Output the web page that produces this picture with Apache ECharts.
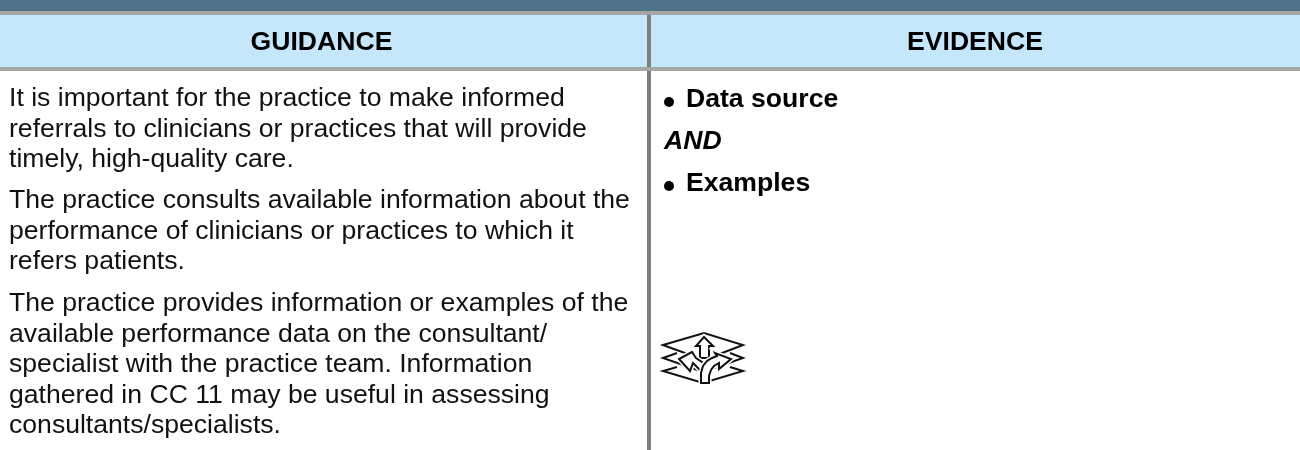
<!DOCTYPE html>
<html><head><meta charset="utf-8">
<style>html,body{margin:0;padding:0;background:#fff}#c{width:1300px;height:450px}</style>
<script src="https://cdn.jsdelivr.net/npm/echarts@6/dist/echarts.min.js"></script>
</head><body><div id="c"></div>
<script>
const headers = ['GUIDANCE', 'EVIDENCE'];
const guidanceLines = [
  'It is important for the practice to make informed',
  'referrals to clinicians or practices that will provide',
  'timely, high-quality care.',
  'The practice consults available information about the',
  'performance of clinicians or practices to which it',
  'refers patients.',
  'The practice provides information or examples of the',
  'available performance data on the consultant/',
  'specialist with the practice team. Information',
  'gathered in CC 11 may be useful in assessing',
  'consultants/specialists.'
];
const guidanceBaselines = [107,137.5,168,209,239.5,270,312,342.5,373,403.5,434];
const evidenceItems = ['Data source','Examples'];
const F = 'Liberation Sans, Arial, sans-serif';
const FS = 26.6;
const chart = echarts.init(document.getElementById('c'));
const rect = (x,y,w,h,fill)=>({type:'rect',shape:{x,y,width:w,height:h},style:{fill},silent:true});
const text = (x,base,t,o={})=>({type:'text',x,y:base-8,style:Object.assign({text:t,fontFamily:F,fontSize:FS,fill:'#111',verticalAlign:'middle'},o)});
const iconStroke = '#111';
const iconLines = [
  [[677,367],[663,371],[703,383],[743,371],[730,367]],
  [[677,353],[663,358],[703,372],[743,358],[730,353]]
];
const iconShapes = [
  [[663,345],[704,333],[743,345],[704,360]],
  [[704,337],[713,346],[709,346],[709,358],[700,358],[700,346],[696,346]],
  [[692,352],[679,359],[690,371],[693,363],[701,371],[705,364],[696,358]],
  [[701,383],[701,373],[703,366],[707,361],[712,358],[717,356],[715,353],[731,359],[719,369],[719,363],[714,366],[711,370],[709,376],[709,383]]
];
const bold = {fontWeight:'bold',fill:'#000'};
const els = [
  rect(0,0,1300,11,'#4f7389'),
  rect(0,15,1300,52,'#c5e7fb'),
  rect(0,11,1300,4,'#a6a6a6'),
  rect(0,67,1300,4,'#a6a6a6'),
  rect(647,15,4,52,'#7f7f7f'),
  rect(647,71,4,379,'#7f7f7f'),
  text(321.5,50.5,headers[0],Object.assign({align:'center'},bold)),
  text(975,50.5,headers[1],Object.assign({align:'center'},bold))
];
guidanceLines.forEach((t,i)=>els.push(text(9,guidanceBaselines[i],t)));
[102,186].forEach((cy,i)=>{
  els.push({type:'circle',shape:{cx:669,cy,r:5},style:{fill:'#000'},silent:true});
  els.push(text(686,[108,192][i],evidenceItems[i],bold));
});
els.push(text(664,150,'AND',Object.assign({fontStyle:'italic'},bold)));
iconLines.forEach(points=>els.push({type:'polyline',shape:{points},style:{stroke:iconStroke,lineWidth:2,fill:null},silent:true}));
iconShapes.forEach((points,i)=>{
  if(i>0) els.push({type:'polygon',shape:{points},style:{fill:'#fff',stroke:'#fff',lineWidth:5},silent:true});
  els.push({type:'polygon',shape:{points},style:{fill:'#fff',stroke:iconStroke,lineWidth:2},silent:true});
});
chart.setOption({animation:false,graphic:{elements:els}});
</script></body></html>
